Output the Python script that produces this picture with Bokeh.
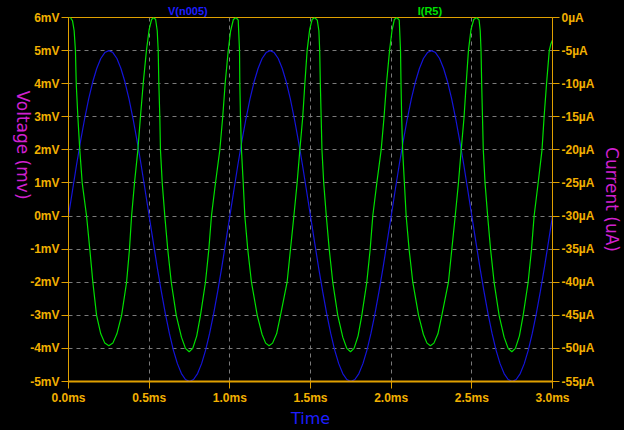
import math
from bokeh.plotting import figure
from bokeh.models import (Range1d, LinearAxis, FixedTicker, PrintfTickFormatter, Label)
from bokeh.embed import file_html
from bokeh.resources import INLINE
from bokeh.core.templates import FILE

# ---------------- data ----------------
time_ticks = [0.0, 0.5, 1.0, 1.5, 2.0, 2.5, 3.0]
volt_ticks = [-5, -4, -3, -2, -1, 0, 1, 2, 3, 4, 5, 6]
cur_ticks = [0, -5, -10, -15, -20, -25, -30, -35, -40, -45, -50, -55]
trace_names = ["V(n005)", "I(R5)"]

# V(n005) in mV, sampled every 0.025 ms from 0 to 3.0 ms
volt_t = [round(0.025 * i, 3) for i in range(121)]
volt_mv = [
    0.00, 0.78, 1.55, 2.27, 2.94, 3.54, 4.05, 4.46, 4.76, 4.94,
    5.00, 4.94, 4.76, 4.46, 4.05, 3.54, 2.94, 2.27, 1.55, 0.78,
    0.00, -0.78, -1.55, -2.27, -2.94, -3.54, -4.05, -4.46, -4.76, -4.94,
    -5.00, -4.94, -4.76, -4.46, -4.05, -3.54, -2.94, -2.27, -1.55, -0.78,
    0.00, 0.78, 1.55, 2.27, 2.94, 3.54, 4.05, 4.46, 4.76, 4.94,
    5.00, 4.94, 4.76, 4.46, 4.05, 3.54, 2.94, 2.27, 1.55, 0.78,
    0.00, -0.78, -1.55, -2.27, -2.94, -3.54, -4.05, -4.46, -4.76, -4.94,
    -5.00, -4.94, -4.76, -4.46, -4.05, -3.54, -2.94, -2.27, -1.55, -0.78,
    0.00, 0.78, 1.55, 2.27, 2.94, 3.54, 4.05, 4.46, 4.76, 4.94,
    5.00, 4.94, 4.76, 4.46, 4.05, 3.54, 2.94, 2.27, 1.55, 0.78,
    0.00, -0.78, -1.55, -2.27, -2.94, -3.54, -4.05, -4.46, -4.76, -4.94,
    -5.00, -4.94, -4.76, -4.46, -4.05, -3.54, -2.94, -2.27, -1.55, -0.78,
    0.00,
]

# I(R5) in uA
cur_t = [
    0.000, 0.012, 0.025, 0.035, 0.043, 0.048, 0.058, 0.070, 0.085, 0.112,
    0.132, 0.151, 0.174, 0.200, 0.225, 0.250, 0.275, 0.300, 0.329, 0.360,
    0.378, 0.391, 0.409, 0.430, 0.446, 0.463, 0.483, 0.500, 0.515, 0.528,
    0.540,
    0.550, 0.556, 0.560, 0.566, 0.570, 0.581, 0.597, 0.615, 0.637, 0.668,
    0.700, 0.725, 0.748, 0.770, 0.795, 0.818, 0.849, 0.870, 0.886, 0.911,
    0.938, 0.956, 0.971, 0.990, 1.005, 1.022, 1.038, 1.052,
    1.060, 1.062, 1.066, 1.072, 1.083, 1.093, 1.111, 1.134, 1.170, 1.200,
    1.222, 1.243, 1.265, 1.290, 1.314, 1.355, 1.376, 1.397, 1.417, 1.434,
    1.452, 1.465, 1.479, 1.495, 1.510, 1.525, 1.542,
    1.552, 1.557, 1.561, 1.566, 1.571, 1.582, 1.598, 1.616, 1.638, 1.669,
    1.700, 1.725, 1.748, 1.770, 1.795, 1.818, 1.849, 1.870, 1.886, 1.911,
    1.938, 1.956, 1.971, 1.990, 2.005, 2.020, 2.035, 2.050,
    2.058, 2.061, 2.065, 2.071, 2.082, 2.093, 2.111, 2.134, 2.170, 2.200,
    2.222, 2.243, 2.265, 2.290, 2.314, 2.355, 2.376, 2.397, 2.417, 2.434,
    2.452, 2.465, 2.479, 2.495, 2.512, 2.530, 2.545,
    2.552, 2.557, 2.561, 2.566, 2.571, 2.582, 2.598, 2.616, 2.638, 2.669,
    2.700, 2.725, 2.748, 2.770, 2.795, 2.818, 2.849, 2.870, 2.886, 2.911,
    2.935, 2.948, 2.963, 2.980, 2.990, 3.000,
]
cur_ua = [
    0.0, 0.0, -0.5, -2.0, -5.0, -10.0, -15.0, -20.0, -25.0, -30.0,
    -35.0, -40.0, -45.0, -47.8, -49.2, -49.6, -49.2, -47.8, -45.0, -40.0,
    -35.0, -30.0, -25.0, -20.0, -15.0, -10.0, -5.0, -1.8, -0.3, 0.0,
    -0.3,
    -2.0, -5.0, -10.0, -15.0, -20.0, -25.0, -30.0, -35.0, -40.0, -45.0,
    -48.3, -50.0, -50.5, -50.0, -48.1, -45.0, -40.0, -35.0, -30.0, -25.0,
    -20.0, -15.0, -10.0, -5.0, -2.0, -0.3, 0.0, -0.4,
    -5.0, -10.0, -15.0, -20.0, -25.0, -30.0, -35.0, -40.0, -45.0, -47.9,
    -49.2, -49.6, -49.2, -47.8, -45.0, -40.0, -35.0, -30.0, -25.0, -20.0,
    -15.0, -10.0, -5.0, -1.8, -0.3, 0.0, -0.4,
    -2.0, -5.0, -10.0, -15.0, -20.0, -25.0, -30.0, -35.0, -40.0, -45.0,
    -48.3, -50.0, -50.5, -50.0, -48.1, -45.0, -40.0, -35.0, -30.0, -25.0,
    -20.0, -15.0, -10.0, -5.0, -2.0, -0.3, 0.0, -0.4,
    -5.0, -10.0, -15.0, -20.0, -25.0, -30.0, -35.0, -40.0, -45.0, -47.9,
    -49.2, -49.6, -49.2, -47.8, -45.0, -40.0, -35.0, -30.0, -25.0, -20.0,
    -15.0, -10.0, -5.0, -1.8, -0.3, 0.0, -0.4,
    -2.0, -5.0, -10.0, -15.0, -20.0, -25.0, -30.0, -35.0, -40.0, -45.0,
    -48.3, -50.0, -50.5, -50.0, -48.1, -45.0, -40.0, -35.0, -30.0, -25.0,
    -20.0, -15.0, -10.0, -5.0, -4.0, -3.4,
]

# ---------------- style ----------------
ORANGE_TXT = "#f2b000"
ORANGE_LN = "#e0a000"
GRID = "#7a7a7a"
BLUE_TRACE = "#1414d8"
BLUE_TXT = "#1e1eff"
GREEN = "#00e000"
MAGENTA = "#d020d0"
TICK_FONT = "Liberation Sans"
NAME_X = [0.74, 2.24]          # horizontal position of the trace names (layout)

p = figure(width=624, height=430, output_backend="svg", toolbar_location=None,
           x_range=Range1d(0, 3), y_range=Range1d(-5, 6),
           background_fill_color="black", border_fill_color="black",
           min_border_left=68, min_border_right=72, min_border_top=17,
           min_border_bottom=46, outline_line_color=ORANGE_LN,
           outline_line_width=1)
p.extra_y_ranges = {"cur": Range1d(-55, 0)}

# bottom axis
xa = p.xaxis[0]
xa.ticker = FixedTicker(ticks=time_ticks)
xa.formatter = PrintfTickFormatter(format="%.1fms")
xa.axis_label = "Time"
xa.axis_label_text_color = BLUE_TXT
xa.axis_label_text_font = "DejaVu Sans"
xa.axis_label_text_font_size = "16px"
xa.axis_label_text_font_style = "normal"
xa.axis_label_standoff = 1

# left axis
ya = p.yaxis[0]
ya.ticker = FixedTicker(ticks=volt_ticks)
ya.formatter = PrintfTickFormatter(format="%dmV")
ya.axis_label = "Voltage (mv)"
ya.axis_label_text_color = MAGENTA
ya.axis_label_text_font = "DejaVu Sans"
ya.axis_label_text_font_size = "17px"
ya.axis_label_text_font_style = "normal"
ya.axis_label_orientation = -math.pi / 2
ya.axis_label_standoff = 4

# right axis
ra = LinearAxis(y_range_name="cur", ticker=FixedTicker(ticks=cur_ticks),
                formatter=PrintfTickFormatter(format="%dµA"))
p.add_layout(ra, "right")

for ax in (xa, ya, ra):
    ax.axis_line_color = ORANGE_LN
    ax.axis_line_width = 1
    ax.major_tick_line_color = ORANGE_LN
    ax.major_tick_out = 7
    ax.major_tick_in = 0
    ax.minor_tick_line_color = None
    ax.major_label_text_color = ORANGE_TXT
    ax.major_label_text_font = TICK_FONT
    ax.major_label_text_font_style = "bold"
    ax.major_label_text_font_size = "12px"
    ax.major_label_standoff = 2
xa.axis_line_width = 2

# right axis title as a label in the right side panel
p.add_layout(Label(x=3.0, y=0.5, x_offset=59,
                   text="Current (uA)", angle=-math.pi / 2,
                   text_align="center", text_baseline="middle", text_color=MAGENTA,
                   text_font="DejaVu Sans", text_font_size="17px"), "right")

for g in (p.xgrid[0], p.ygrid[0]):
    g.grid_line_color = GRID
    g.grid_line_dash = "4 4"
    g.grid_line_width = 1

# traces
p.line(volt_t, volt_mv, line_color=BLUE_TRACE, line_width=1.2)
p.line(cur_t, cur_ua, line_color=GREEN, line_width=1.2, y_range_name="cur")

# trace names: two label-only axes on top sharing the same row
for nx, name, col, stand in zip(NAME_X, trace_names, [BLUE_TXT, GREEN], [1, -15]):
    ta = LinearAxis(ticker=FixedTicker(ticks=[nx]),
                    major_label_overrides={nx: name})
    ta.axis_line_color = None
    ta.major_tick_line_color = None
    ta.minor_tick_line_color = None
    ta.major_tick_out = 0
    ta.major_tick_in = 0
    ta.major_label_text_color = col
    ta.major_label_text_font = TICK_FONT
    ta.major_label_text_font_style = "bold"
    ta.major_label_text_font_size = "11px"
    ta.major_label_standoff = stand
    p.add_layout(ta, "above")

style = "<style>html,body{margin:0;padding:0;background:#000;overflow:hidden}</style>"
tmpl = FILE.environment.from_string(
    '{% extends "file.html" %}{% block postamble %}' + style + '{% endblock %}')

open("out.html", "w").write(file_html(p, INLINE, template=tmpl))
